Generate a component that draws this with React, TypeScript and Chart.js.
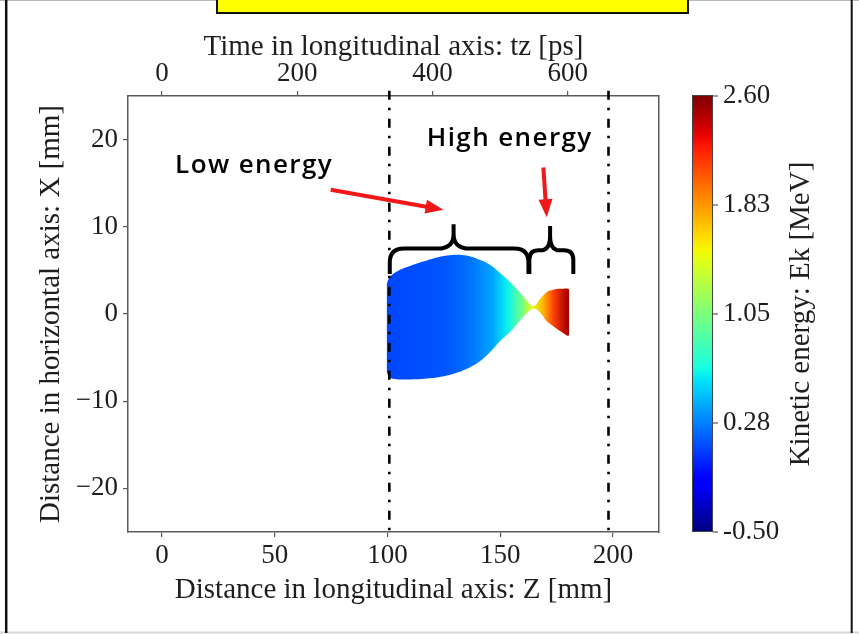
import React, { useEffect, useRef } from "react";
import { Chart, registerables } from "chart.js";

Chart.register(...registerables);

// ---------------- data ----------------
// longitudinal stations of the electron bunch (Z, mm)
const bunchZ = [99.6, 100.5, 102, 105, 110, 115, 120, 125, 130, 135, 140, 145, 150, 155, 160, 164.6, 167.6, 170.5, 173, 175, 178, 180, 180.6];
// upper / lower transverse envelope of the particle cloud (X, mm)
const bunchUpperX = [3.4, 4.0, 4.5, 5.0, 5.5, 5.95, 6.35, 6.65, 6.8, 6.7, 6.3, 5.7, 4.7, 3.5, 2.1, 0.9, 1.7, 2.5, 2.75, 2.87, 2.9, 2.9, 2.8];
const bunchLowerX = [-6.6, -7.2, -7.4, -7.5, -7.5, -7.45, -7.35, -7.15, -6.8, -6.3, -5.6, -4.5, -3.1, -1.9, -0.4, 0.6, 0.2, -0.8, -1.3, -1.7, -2.2, -2.5, -2.4];
// kinetic energy along the bunch (MeV)
const energyZ = [99.6, 126, 138, 147, 153, 159, 164, 169, 173.5, 179.5, 180.6];
const energyMeV = [0.1, 0.15, 0.25, 0.4, 0.62, 0.96, 1.44, 1.73, 2.1, 2.48, 2.5];

const zTicks = [0, 50, 100, 150, 200];
const xTicks = [-20, -10, 0, 10, 20];
const tzTicks = [0, 200, 400, 600];
const ekTickValues = [-0.5, 0.275, 1.05, 1.825, 2.6];
const ekTickLabels = ["-0.50", "0.28", "1.05", "1.83", "2.60"];
const markerZ = [100.8, 198];

const Z_RANGE = [-15.1, 220.4];
const X_RANGE = [-25, 25];
const EK_RANGE = [-0.5, 2.6];
const C_MM_PER_PS = 0.299792;

// annotations (data units)
const LABELS = [
  { text: "Low energy", z: 5.8, x: 16.2 },
  { text: "High energy", z: 117.4, x: 19.3 },
];
const ARROWS = [
  { z0: 74.8, x0: 14.25, z1: 124.8, x1: 11.95 },
  { z0: 169.1, x0: 16.8, z1: 170.6, x1: 11.1 },
];
const BRACES = [
  { z0: 101, z1: 162.5, zTip: 129.3, xEnd: 4.6, xMid: 7.5, xTip: 10.3 },
  { z0: 162.9, z1: 182.4, zTip: 172.1, xEnd: 4.6, xMid: 7.3, xTip: 10.1 },
];

// ---------------- jet colormap ----------------
const JET_R = [[0, 0], [0.35, 0], [0.66, 1], [0.89, 1], [1, 0.5]];
const JET_G = [[0, 0], [0.125, 0], [0.375, 1], [0.64, 1], [0.91, 0], [1, 0]];
const JET_B = [[0, 0.5], [0.11, 1], [0.34, 1], [0.65, 0], [1, 0]];
function seg(pts: number[][], t: number) {
  if (t <= pts[0][0]) return pts[0][1];
  for (let i = 1; i < pts.length; i++) {
    if (t <= pts[i][0]) {
      const [a, va] = pts[i - 1];
      const [b, vb] = pts[i];
      return va + ((t - a) / (b - a)) * (vb - va);
    }
  }
  return pts[pts.length - 1][1];
}
function jet(t: number) {
  const c = Math.max(0, Math.min(1, t));
  return `rgb(${Math.round(seg(JET_R, c) * 255)},${Math.round(seg(JET_G, c) * 255)},${Math.round(seg(JET_B, c) * 255)})`;
}
function energyColor(e: number) {
  return jet((e - EK_RANGE[0]) / (EK_RANGE[1] - EK_RANGE[0]));
}

const SERIF = "'Liberation Serif', 'Times New Roman', serif";
const TEXT = "#1e1e1e";
const FRAME = "#5a5a5a";

function bunchFill(context: any) {
  const chart = context.chart;
  const { ctx, chartArea, scales } = chart;
  if (!chartArea || !scales.x) return "rgba(0,0,0,0)";
  const xs = scales.x;
  const p0 = xs.getPixelForValue(energyZ[0]);
  const p1 = xs.getPixelForValue(energyZ[energyZ.length - 1]);
  const g = ctx.createLinearGradient(p0, 0, p1, 0);
  energyZ.forEach((z, i) => {
    g.addColorStop((xs.getPixelForValue(z) - p0) / (p1 - p0), energyColor(energyMeV[i]));
  });
  return g;
}

const decorPlugin = {
  id: "decor",
  beforeDraw(chart: any) {
    const { ctx, width, height } = chart;
    ctx.save();
    ctx.fillStyle = "#ffffff";
    ctx.fillRect(0, 0, width, height);
    // outer frame
    ctx.strokeStyle = "#b8b8b8";
    ctx.lineWidth = 1;
    ctx.beginPath();
    ctx.moveTo(0, 0.5);
    ctx.lineTo(width, 0.5);
    ctx.stroke();
    ctx.strokeStyle = "#d6d6d6";
    ctx.lineWidth = 2;
    ctx.beginPath();
    ctx.moveTo(0, 632.5);
    ctx.lineTo(width, 632.5);
    ctx.stroke();
    ctx.strokeStyle = "#111";
    ctx.lineWidth = 2.5;
    ctx.beginPath();
    ctx.moveTo(6.2, 0);
    ctx.lineTo(6.2, 633);
    ctx.stroke();
    ctx.lineWidth = 2;
    ctx.beginPath();
    ctx.moveTo(851.7, 0);
    ctx.lineTo(851.7, 633);
    ctx.stroke();
    // yellow title box (cut at the top)
    ctx.fillStyle = "#ffff00";
    ctx.fillRect(217, -3, 471, 16);
    ctx.strokeStyle = "#111";
    ctx.lineWidth = 2;
    ctx.strokeRect(217, -3, 471, 16);
    ctx.restore();
  },
  afterDatasetsDraw(chart: any) {
    const { ctx, scales } = chart;
    const xs = scales.x;
    const ys = scales.y;
    const cb = scales.cb;
    ctx.save();

    // dash-dot marker lines
    ctx.strokeStyle = "#000";
    ctx.lineWidth = 2.6;
    ctx.lineCap = "butt";
    ctx.setLineDash([9, 8, 2.5, 8.5]);
    markerZ.forEach((z) => {
      const px = xs.getPixelForValue(z);
      ctx.beginPath();
      ctx.moveTo(px, ys.getPixelForValue(25.6));
      ctx.lineTo(px, ys.getPixelForValue(-25));
      ctx.stroke();
    });
    ctx.setLineDash([]);

    // braces
    ctx.strokeStyle = "#000";
    ctx.lineWidth = 4;
    ctx.lineJoin = "round";
    BRACES.forEach((b) => {
      const xL = xs.getPixelForValue(b.z0);
      const xR = xs.getPixelForValue(b.z1);
      const xT = xs.getPixelForValue(b.zTip);
      const yE = ys.getPixelForValue(b.xEnd);
      const yM = ys.getPixelForValue(b.xMid);
      const yT = ys.getPixelForValue(b.xTip);
      const r = Math.min(14, (xT - xL) / 2.2, yE - yM);
      const r2 = Math.min(16, (xT - xL) / 2.2);
      ctx.beginPath();
      ctx.moveTo(xL, yE);
      ctx.lineTo(xL, yM + r);
      ctx.quadraticCurveTo(xL, yM, xL + r, yM);
      ctx.lineTo(xT - r2, yM);
      ctx.quadraticCurveTo(xT, yM, xT, yM - (yM - yT) * 0.6);
      ctx.lineTo(xT, yT);
      ctx.moveTo(xT, yM - (yM - yT) * 0.6);
      ctx.quadraticCurveTo(xT, yM, xT + r2, yM);
      ctx.lineTo(xR - r, yM);
      ctx.quadraticCurveTo(xR, yM, xR, yM + r);
      ctx.lineTo(xR, yE);
      ctx.stroke();
    });

    // red arrows
    ctx.strokeStyle = "#f01818";
    ctx.fillStyle = "#f01818";
    ARROWS.forEach((a) => {
      const x0 = xs.getPixelForValue(a.z0), y0 = ys.getPixelForValue(a.x0);
      const x1 = xs.getPixelForValue(a.z1), y1 = ys.getPixelForValue(a.x1);
      const dx = x1 - x0, dy = y1 - y0;
      const L = Math.hypot(dx, dy);
      const ux = dx / L, uy = dy / L;
      const head = 18, half = 7;
      ctx.lineWidth = 4;
      ctx.beginPath();
      ctx.moveTo(x0, y0);
      ctx.lineTo(x1 - ux * head * 0.8, y1 - uy * head * 0.8);
      ctx.stroke();
      ctx.beginPath();
      ctx.moveTo(x1, y1);
      ctx.lineTo(x1 - ux * head - uy * half, y1 - uy * head + ux * half);
      ctx.lineTo(x1 - ux * head + uy * half, y1 - uy * head - ux * half);
      ctx.closePath();
      ctx.fill();
    });

    // labels
    ctx.fillStyle = "#000";
    ctx.font = "600 26px 'Open Sans', 'Noto Sans', sans-serif";
    ctx.textAlign = "left";
    ctx.textBaseline = "alphabetic";
    try { (ctx as any).letterSpacing = "1.4px"; } catch (e) {}
    LABELS.forEach((l) => {
      ctx.fillText(l.text, xs.getPixelForValue(l.z), ys.getPixelForValue(l.x));
    });
    try { (ctx as any).letterSpacing = "0px"; } catch (e) {}

    // colorbar
    const cbLeft = 692, cbRight = 713;
    const top = cb.getPixelForValue(EK_RANGE[1]);
    const bot = cb.getPixelForValue(EK_RANGE[0]);
    const grad = ctx.createLinearGradient(0, bot, 0, top);
    for (let i = 0; i <= 40; i++) {
      const t = i / 40;
      grad.addColorStop(t, jet(t));
    }
    ctx.fillStyle = grad;
    ctx.fillRect(cbLeft, top - 1, cbRight - cbLeft, bot - top + 1);
    ctx.strokeStyle = "#444";
    ctx.lineWidth = 1;
    ctx.strokeRect(cbLeft + 0.5, top - 0.5, cbRight - cbLeft - 1, bot - top);
    ctx.strokeStyle = FRAME;
    ctx.lineWidth = 1.2;
    ekTickValues.forEach((v) => {
      const py = cb.getPixelForValue(v);
      ctx.beginPath();
      ctx.moveTo(cbRight, py);
      ctx.lineTo(cbRight + 5, py);
      ctx.stroke();
    });
    // colorbar title
    ctx.fillStyle = TEXT;
    ctx.font = `29px ${SERIF}`;
    ctx.textAlign = "center";
    ctx.textBaseline = "middle";
    ctx.translate(801, (top + bot) / 2);
    ctx.rotate(-Math.PI / 2);
    ctx.fillText("Kinetic energy: Ek [MeV]", 0, 0);
    ctx.restore();
  },
};

const tickFont = { family: SERIF, size: 27 };
const titleFont = { family: SERIF, size: 29 };
const minusFmt = (v: number) => (v < 0 ? "\u2212" + Math.abs(v) : String(v));

export default function App() {
  const ref = useRef<HTMLCanvasElement | null>(null);
  useEffect(() => {
    const canvas = ref.current;
    if (!canvas) return;
    const upper = bunchZ.map((z, i) => ({ x: z, y: bunchUpperX[i] }));
    const lower = bunchZ.map((z, i) => ({ x: z, y: bunchLowerX[i] }));
    const chart = new Chart(canvas, {
      type: "line",
      data: {
        datasets: [
          {
            label: "bunch upper",
            data: upper,
            fill: "+1",
            backgroundColor: bunchFill,
            borderColor: "rgba(0,0,0,0)",
            borderWidth: 0,
            pointRadius: 0,
            tension: 0.4,
            xAxisID: "x",
            yAxisID: "y",
          },
          {
            label: "bunch lower",
            data: lower,
            fill: false,
            borderColor: "rgba(0,0,0,0)",
            borderWidth: 0,
            pointRadius: 0,
            tension: 0.4,
            xAxisID: "x",
            yAxisID: "y",
          },
        ],
      } as any,
      options: {
        responsive: false,
        maintainAspectRatio: false,
        devicePixelRatio: 1,
        animation: false,
        events: [],
        layout: { padding: 0 },
        plugins: { legend: { display: false }, tooltip: { enabled: false }, title: { display: false } },
        scales: {
          x: {
            type: "linear",
            position: "bottom",
            min: Z_RANGE[0],
            max: Z_RANGE[1],
            afterBuildTicks: (s: any) => { s.ticks = zTicks.map((v) => ({ value: v })); },
            afterFit: (s: any) => { s.height = 102; },
            grid: { drawOnChartArea: false, drawTicks: true, tickLength: 5, color: FRAME, lineWidth: 1.2 },
            border: { display: true, color: FRAME, width: 1.5 },
            ticks: { font: tickFont, color: TEXT, padding: 3, maxRotation: 0, autoSkip: false, callback: (v: any) => minusFmt(v) },
            title: { display: true, text: "Distance in longitudinal axis: Z [mm]", font: titleFont, color: TEXT, padding: { top: 0, bottom: 26 } },
          },
          x2: {
            type: "linear",
            position: "top",
            min: Z_RANGE[0] / C_MM_PER_PS,
            max: Z_RANGE[1] / C_MM_PER_PS,
            afterBuildTicks: (s: any) => { s.ticks = tzTicks.map((v) => ({ value: v })); },
            afterFit: (s: any) => { s.height = 96; },
            grid: { drawOnChartArea: false, drawTicks: true, tickLength: 5, color: FRAME, lineWidth: 1.2 },
            border: { display: true, color: FRAME, width: 1.5 },
            ticks: { font: tickFont, color: TEXT, padding: 1, maxRotation: 0, autoSkip: false, callback: (v: any) => String(v) },
            title: { display: true, text: "Time in longitudinal axis: tz [ps]", font: titleFont, color: TEXT, padding: { top: 30, bottom: 0 } },
          },
          y: {
            type: "linear",
            position: "left",
            min: X_RANGE[0],
            max: X_RANGE[1],
            afterBuildTicks: (s: any) => { s.ticks = xTicks.map((v) => ({ value: v })); },
            afterFit: (s: any) => { s.width = 128; },
            grid: { drawOnChartArea: false, drawTicks: true, tickLength: 5, color: FRAME, lineWidth: 1.2 },
            border: { display: true, color: FRAME, width: 1.5 },
            ticks: { font: tickFont, color: TEXT, padding: 5, autoSkip: false, callback: (v: any) => minusFmt(v) },
            title: { display: true, text: "Distance in horizontal axis: X [mm]", font: titleFont, color: TEXT, padding: { top: 34, bottom: 0 } },
          },
          cb: {
            type: "linear",
            position: "right",
            min: EK_RANGE[0],
            max: EK_RANGE[1],
            afterBuildTicks: (s: any) => { s.ticks = ekTickValues.map((v) => ({ value: v })); },
            afterFit: (s: any) => { s.width = 200; },
            grid: { display: false, drawOnChartArea: false, drawTicks: false, tickLength: 0 },
            border: { display: true, color: FRAME, width: 1.5 },
            ticks: { font: tickFont, color: TEXT, padding: 64, autoSkip: false, callback: (_v: any, i: number) => ekTickLabels[i] },
          },
        } as any,
      },
      plugins: [decorPlugin],
    });
    return () => chart.destroy();
  }, []);
  return (
    <div style={{ position: "absolute", left: 0, top: 0, width: 859, height: 634, background: "#fff" }}>
      <canvas ref={ref} width={859} height={634} style={{ display: "block", width: 859, height: 634 }} />
    </div>
  );
}
